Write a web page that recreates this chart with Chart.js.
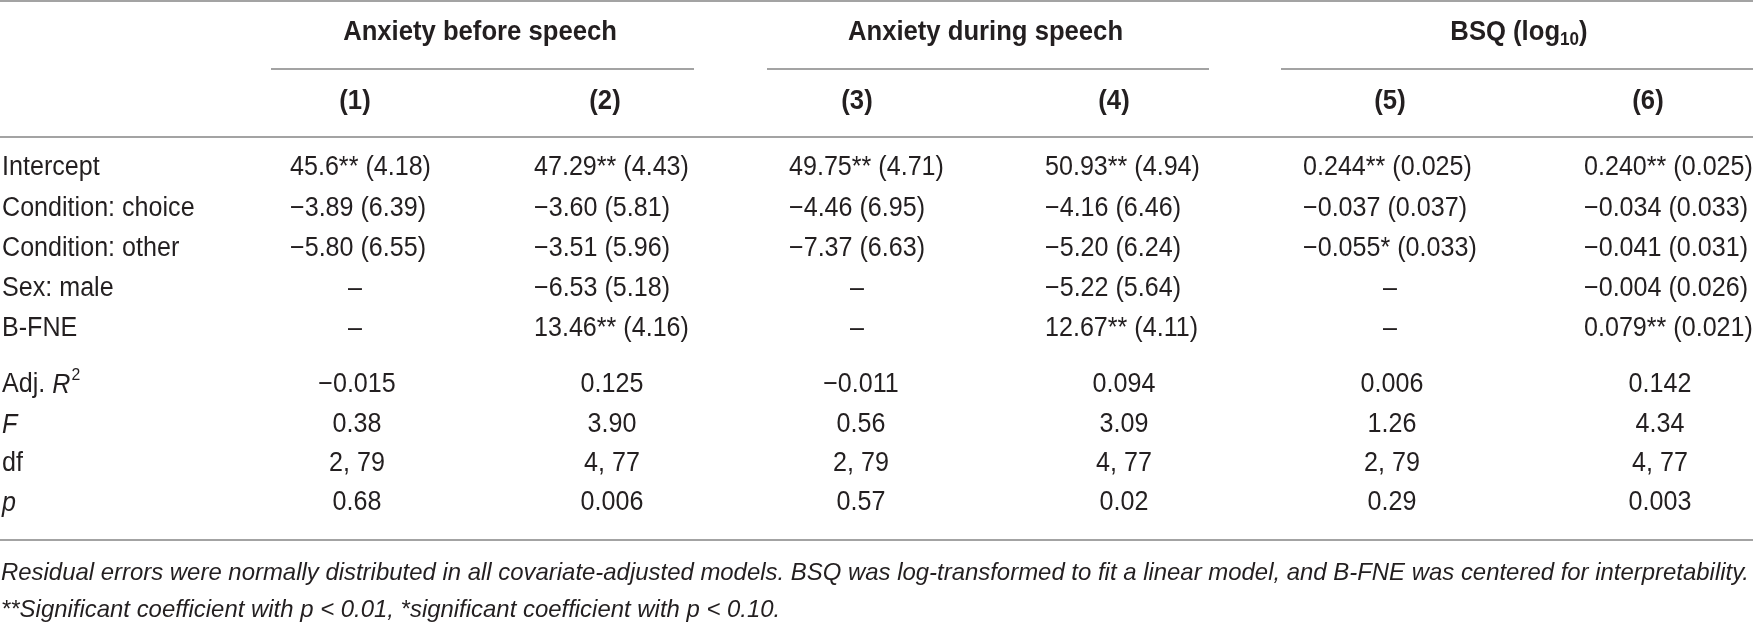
<!DOCTYPE html>
<html>
<head>
<meta charset="utf-8">
<script src="https://cdn.jsdelivr.net/npm/chart.js@4.4.1/dist/chart.umd.min.js"></script>
<style>
    html, body { margin: 0; padding: 0; background: #fff; overflow: hidden; }
    #wrap { width: 1753px; height: 625px; }
</style>
</head>
<body>
<div id="wrap"><canvas id="tableChart" width="1753" height="625"></canvas></div>
<script>
// table content
var groups = ['Anxiety before speech', 'Anxiety during speech', 'BSQ (log|10|)']
var models = ['(1)', '(2)', '(3)', '(4)', '(5)', '(6)']
var coefLabels = ['Intercept', 'Condition: choice', 'Condition: other', 'Sex: male', 'B-FNE']
var intercept = ['45.6** (4.18)', '47.29** (4.43)', '49.75** (4.71)', '50.93** (4.94)', '0.244** (0.025)', '0.240** (0.025)']
var condChoice = ['\u22123.89 (6.39)', '\u22123.60 (5.81)', '\u22124.46 (6.95)', '\u22124.16 (6.46)', '\u22120.037 (0.037)', '\u22120.034 (0.033)']
var condOther = ['\u22125.80 (6.55)', '\u22123.51 (5.96)', '\u22127.37 (6.63)', '\u22125.20 (6.24)', '\u22120.055* (0.033)', '\u22120.041 (0.031)']
var sexMale = ['\u2013', '\u22126.53 (5.18)', '\u2013', '\u22125.22 (5.64)', '\u2013', '\u22120.004 (0.026)']
var bfne = ['\u2013', '13.46** (4.16)', '\u2013', '12.67** (4.11)', '\u2013', '0.079** (0.021)']
var statLabels = ['Adj. ', 'F', 'df', 'p']
var adjR2 = ['\u22120.015', '0.125', '\u22120.011', '0.094', '0.006', '0.142']
var fStat = ['0.38', '3.90', '0.56', '3.09', '1.26', '4.34']
var dfs = ['2, 79', '4, 77', '2, 79', '4, 77', '2, 79', '4, 77']
var pVals = ['0.68', '0.006', '0.57', '0.02', '0.29', '0.003']
var notes = [
    'Residual errors were normally distributed in all covariate-adjusted models. BSQ was log-transformed to fit a linear model, and B-FNE was centered for interpretability.',
    '**Significant coefficient with p < 0.01, *significant coefficient with p < 0.10.'
]

var coefRows = [intercept, condChoice, condOther, sexMale, bfne]
var statRows = [adjR2, fStat, dfs, pVals]

// layout (scale units = px of the 1753x625 frame)
var colCenter = [355, 605, 857, 1114, 1390, 1648]
var coefStart = [290, 534, 789, 1045, 1303, 1584]
var statCenter = [357, 612, 861, 1124, 1392, 1660]
var groupSpan = [[271, 694], [767, 1209], [1281, 1753]]
var rowY = {head: 33, subRule: 69, models: 102, midRule: 137, coef: [168, 209, 249, 289, 329],
            stats: [385, 425, 464, 503], endRule: 540, notes: [573, 610]}

var textColor = '#231f20'
var ruleColor = '#a3a3a3'
var bodyFont = '"Liberation Sans", Arial, sans-serif'
var squeeze = 0.93   // source face is a condensed grotesque

function drawRule(ctx, x0, x1, y, w) {
    ctx.save()
    ctx.strokeStyle = ruleColor
    ctx.lineWidth = w || 2
    ctx.beginPath()
    ctx.moveTo(x0, y)
    ctx.lineTo(x1, y)
    ctx.stroke()
    ctx.restore()
}

// condensed text: returns drawn width
function txt(ctx, s, x, y, align, sx) {
    sx = sx || squeeze
    ctx.save()
    ctx.translate(x, y)
    ctx.scale(sx, 1)
    ctx.textAlign = align || 'left'
    ctx.fillText(s, 0, 0)
    var w = ctx.measureText(s).width * sx
    ctx.restore()
    return w
}

// text with |sub| parts, drawn centred
function drawGroupTitle(ctx, s, cx, y) {
    var parts = s.split('|')
    var big = 'bold 27px ' + bodyFont, small = 'bold 18px ' + bodyFont
    var w = 0
    for (var i = 0; i < parts.length; i++) {
        ctx.font = i % 2 ? small : big
        w += ctx.measureText(parts[i]).width * 0.95
    }
    var x = cx - w / 2
    for (var i = 0; i < parts.length; i++) {
        ctx.font = i % 2 ? small : big
        x += txt(ctx, parts[i], x, y + (i % 2 ? 7 : 0), 'left', 0.95)
    }
}

var tablePlugin = {
    id: 'tablePlugin',
    afterDraw: function (chart) {
        var ctx = chart.ctx
        var xs = chart.scales.x, ys = chart.scales.y
        var X = function (v) { return xs.getPixelForValue(v) }
        var Y = function (v) { return ys.getPixelForValue(v) }
        ctx.save()
        ctx.fillStyle = textColor
        ctx.textBaseline = 'middle'

        // rules
        drawRule(ctx, X(0), X(1753), Y(1), 2)
        for (var g = 0; g < groupSpan.length; g++) {
            drawRule(ctx, X(groupSpan[g][0]), X(groupSpan[g][1]), Y(rowY.subRule), 2)
        }
        drawRule(ctx, X(0), X(1753), Y(rowY.midRule), 2)
        drawRule(ctx, X(0), X(1753), Y(rowY.endRule), 2)

        // group titles and model numbers
        for (var g = 0; g < groups.length; g++) {
            var cx = (colCenter[2 * g] + colCenter[2 * g + 1]) / 2
            drawGroupTitle(ctx, groups[g], X(cx), Y(rowY.head))
        }
        ctx.font = 'bold 27px ' + bodyFont
        for (var m = 0; m < models.length; m++) {
            txt(ctx, models[m], X(colCenter[m]), Y(rowY.models), 'center', 0.95)
        }

        // coefficient block
        ctx.font = '27px ' + bodyFont
        for (var r = 0; r < coefRows.length; r++) {
            var y = Y(rowY.coef[r])
            txt(ctx, coefLabels[r], X(2), y, 'left')
            for (var c = 0; c < 6; c++) {
                var v = coefRows[r][c]
                if (v === '\u2013') {
                    txt(ctx, v, X(colCenter[c]), y, 'center')
                } else {
                    txt(ctx, v, X(coefStart[c]), y, 'left')
                }
            }
        }

        // fit statistics
        for (var r = 0; r < statRows.length; r++) {
            var y = Y(rowY.stats[r])
            if (r === 0) {
                ctx.font = '27px ' + bodyFont
                var x = X(2) + txt(ctx, statLabels[0], X(2), y, 'left')
                ctx.font = 'italic 27px ' + bodyFont
                x += txt(ctx, 'R', x, y, 'left') + 1
                ctx.font = '17px ' + bodyFont
                txt(ctx, '2', x, y - 10, 'left')
            } else {
                ctx.font = (r === 2 ? '' : 'italic ') + '27px ' + bodyFont
                txt(ctx, statLabels[r], X(2), y, 'left')
            }
            ctx.font = '27px ' + bodyFont
            for (var c = 0; c < 6; c++) {
                txt(ctx, statRows[r][c], X(statCenter[c]), y, 'center')
            }
        }

        // notes, squeezed to span the frame width like the source
        ctx.font = 'italic 24px ' + bodyFont
        var sx = (X(1749) - X(1)) / ctx.measureText(notes[0]).width
        for (var n = 0; n < notes.length; n++) {
            txt(ctx, notes[n], X(1), Y(rowY.notes[n]), 'left', sx)
        }
        ctx.restore()
    }
}

var tableChart = new Chart(document.getElementById('tableChart').getContext('2d'), {
    type: 'scatter',
    data: {datasets: []},
    options: {
        responsive: false,
        animation: false,
        layout: {padding: 0},
        plugins: {legend: {display: false}, tooltip: {enabled: false}, title: {display: false}},
        scales: {
            x: {type: 'linear', min: 0, max: 1753, display: false},
            y: {type: 'linear', min: 0, max: 625, reverse: true, display: false}
        }
    },
    plugins: [tablePlugin]
})
</script>
</body>
</html>
